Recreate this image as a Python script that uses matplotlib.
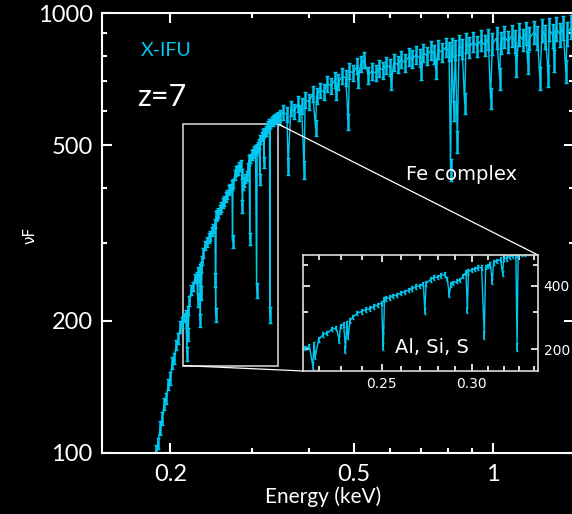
import numpy as np
import matplotlib.pyplot as plt
from matplotlib.ticker import FixedLocator, FixedFormatter, NullFormatter
from mpl_toolkits.axes_grid1.inset_locator import mark_inset

plt.rcParams['font.family'] = ['Lato', 'DejaVu Sans']

cyan = '#00c8f0'

# spectrum, low-energy rise (keV, nuF, error)
energy_lo = [0.184, 0.186, 0.188, 0.190, 0.192, 0.194, 0.196, 0.198, 0.200, 0.202,
             0.204, 0.206, 0.208, 0.210, 0.212]
flux_lo = [94, 101, 105, 114, 120, 129, 133, 143, 148, 160,
           164, 176, 182, 193, 198]
err_lo = [3, 3, 3, 4, 4, 4, 4, 4, 5, 5,
          5, 5, 5, 6, 6]

# Al, Si, S region (the zoomed part)
energy_mid = [0.214, 0.216, 0.2174, 0.218, 0.2186, 0.220, 0.222, 0.224, 0.226, 0.228,
              0.2294, 0.230, 0.2315, 0.2323, 0.2330, 0.2336, 0.2345, 0.236, 0.238, 0.240,
              0.242, 0.244, 0.246, 0.248, 0.250, 0.2504, 0.2508, 0.2514, 0.252, 0.254,
              0.256, 0.258, 0.260, 0.262, 0.264, 0.266, 0.268, 0.270, 0.272, 0.2728,
              0.2735, 0.276, 0.278, 0.280, 0.282, 0.284, 0.2855, 0.2866, 0.2875, 0.289,
              0.291, 0.293, 0.295, 0.2965, 0.2973, 0.298, 0.300, 0.302, 0.304, 0.306,
              0.3077, 0.3085, 0.310, 0.3115, 0.3127, 0.3135, 0.316, 0.318, 0.3193, 0.320,
              0.322, 0.324, 0.326, 0.328, 0.3288, 0.3295, 0.332, 0.334, 0.336, 0.338,
              0.340, 0.342]
flux_mid = [203, 206, 168, 211, 186, 222, 235, 239, 249, 252,
            223, 259, 262, 200, 265, 231, 274, 285, 297, 302,
            308, 311, 319, 324, 332, 247, 206, 345, 347, 351,
            358, 362, 370, 374, 382, 387, 396, 399, 407, 303,
            410, 429, 437, 440, 448, 452, 430, 364, 405, 412,
            420, 426, 445, 463, 307, 467, 475, 480, 487, 488,
            234, 492, 497, 505, 418, 516, 524, 531, 457, 536,
            540, 549, 555, 560, 206, 561, 567, 568, 573, 574,
            579, 582]
err_mid = [5, 5, 6, 5, 6, 6, 6, 6, 6, 6,
           8, 6, 7, 7, 7, 8, 7, 7, 7, 8,
           8, 8, 8, 8, 8, 9, 8, 9, 9, 9,
           9, 9, 9, 9, 10, 10, 10, 10, 10, 10,
           10, 11, 11, 11, 11, 11, 11, 12, 10, 10,
           10, 11, 11, 12, 10, 12, 12, 12, 12, 12,
           9, 12, 12, 13, 12, 13, 13, 13, 13, 13,
           14, 14, 14, 14, 9, 14, 14, 14, 14, 14,
           14, 15]

# higher energies, incl. Fe complex near 0.8 keV
energy_hi = [0.345, 0.351, 0.358, 0.360, 0.365, 0.371, 0.378, 0.381, 0.385, 0.390,
             0.392, 0.400, 0.407, 0.413, 0.415, 0.422, 0.430, 0.438, 0.446, 0.455,
             0.457, 0.463, 0.472, 0.480, 0.486, 0.489, 0.498, 0.508, 0.510, 0.517,
             0.527, 0.537, 0.547, 0.557, 0.567, 0.578, 0.588, 0.599, 0.603, 0.610,
             0.622, 0.633, 0.645, 0.657, 0.669, 0.682, 0.694, 0.700, 0.707, 0.720,
             0.734, 0.747, 0.752, 0.761, 0.775, 0.790, 0.804, 0.810, 0.815, 0.823,
             0.830, 0.838, 0.845, 0.858, 0.869, 0.875, 0.890, 0.907, 0.925, 0.942,
             0.960, 0.978, 0.989, 0.998, 1.02, 1.035, 1.04, 1.06, 1.08, 1.10,
             1.12, 1.125, 1.14, 1.16, 1.18, 1.19, 1.20, 1.23, 1.25, 1.265,
             1.28, 1.30, 1.32, 1.325, 1.35, 1.36, 1.37, 1.40, 1.42, 1.44,
             1.45, 1.48, 1.50, 1.53]
flux_hi = [580, 595, 588, 448, 606, 598, 621, 592, 615, 440,
           634, 628, 655, 548, 648, 668, 662, 690, 684, 705,
           662, 698, 719, 712, 566, 738, 731, 758, 704, 766,
           781, 722, 738, 731, 750, 742, 762, 752, 700, 772,
           764, 784, 772, 795, 786, 803, 791, 740, 812, 800,
           822, 806, 745, 828, 814, 835, 818, 440, 836, 600,
           826, 510, 846, 830, 623, 855, 836, 860, 840, 866,
           846, 872, 640, 851, 878, 710, 856, 884, 860, 889,
           864, 760, 895, 870, 900, 770, 876, 906, 880, 710,
           912, 884, 720, 918, 890, 780, 922, 894, 926, 736,
           898, 930, 902, 935]
err_hi = [23, 24, 24, 20, 24, 24, 25, 25, 25, 20,
          26, 26, 27, 24, 27, 27, 27, 28, 28, 29,
          28, 29, 30, 30, 25, 31, 31, 32, 30, 32,
          33, 31, 32, 32, 33, 33, 34, 34, 31, 35,
          35, 36, 36, 37, 37, 38, 38, 35, 39, 39,
          40, 40, 36, 41, 41, 42, 42, 25, 43, 32,
          43, 30, 44, 44, 35, 45, 45, 46, 46, 47,
          47, 48, 36, 48, 49, 40, 49, 50, 50, 51,
          51, 44, 52, 52, 53, 45, 53, 54, 54, 42,
          55, 55, 42, 56, 56, 46, 57, 57, 58, 44,
          58, 59, 59, 60]

energy = np.array(energy_lo + energy_mid + energy_hi)
flux = np.array(flux_lo + flux_mid + flux_hi)
err = np.array(err_lo + err_mid + err_hi)

fig = plt.figure(figsize=(5.72, 5.14), dpi=100, facecolor='black')
ax = fig.add_axes([0.1788, 0.1187, 0.8247, 0.856], facecolor='black')
ax.set_xscale('log')
ax.set_yscale('log')
ax.errorbar(energy, flux, yerr=err, color=cyan, lw=1.0, elinewidth=1.8,
            capsize=1.2, capthick=1.0)
ax.set_xlim(0.1424, 1.50)
ax.set_ylim(100, 1000)

ax.xaxis.set_major_locator(FixedLocator([0.2, 0.5, 1]))
ax.xaxis.set_major_formatter(FixedFormatter(['0.2', '0.5', '1']))
ax.xaxis.set_minor_locator(FixedLocator([0.3, 0.4, 0.6, 0.7, 0.8, 0.9]))
ax.xaxis.set_minor_formatter(NullFormatter())
ax.yaxis.set_major_locator(FixedLocator([100, 200, 500, 1000]))
ax.yaxis.set_major_formatter(FixedFormatter(['100', '200', '500', '1000']))
ax.yaxis.set_minor_locator(FixedLocator([300, 400, 600, 700, 800, 900]))
ax.yaxis.set_minor_formatter(NullFormatter())
ax.tick_params(which='both', direction='in', top=True, right=True,
               color='white', labelcolor='white', width=1.5, labelsize=17)
ax.tick_params(which='major', length=7)
ax.tick_params(which='minor', length=3.5)
ax.tick_params(axis='x', pad=8)
ax.tick_params(axis='y', pad=7)
for s in ax.spines.values():
    s.set_color('white')
    s.set_linewidth(1.5)

fig.text(30 / 572, 1 - 235 / 514, 'νF', rotation=90, color='white',
         fontsize=11, ha='center', va='center', family='DejaVu Sans')
fig.text(323 / 572, 1 - 497 / 514, 'Energy (keV)', color='white',
         fontsize=15, ha='center', va='center')
fig.text(166 / 572, 1 - 51 / 514, 'X-IFU', color=cyan, fontsize=14,
         ha='center', va='center')
fig.text(162 / 572, 1 - 97 / 514, 'z=7', color='white', fontsize=22,
         ha='center', va='center')
fig.text(461 / 572, 1 - 175 / 514, 'Fe complex', color='white', fontsize=14,
         ha='center', va='center', family='DejaVu Sans')

# inset on the Al, Si, S lines
axins = fig.add_axes([0.5302, 0.2782, 0.4103, 0.2257], facecolor='black')
axins.set_xscale('log')
axins.set_yscale('log')
axins.errorbar(energy, flux, yerr=err, color=cyan, lw=1.0, elinewidth=1.3,
               capsize=1.0, capthick=1.0)
axins.set_xlim(0.2133, 0.343)
axins.set_ylim(158, 559)
axins.xaxis.set_major_locator(FixedLocator([0.25, 0.30]))
axins.xaxis.set_major_formatter(FixedFormatter(['0.25', '0.30']))
axins.xaxis.set_minor_locator(FixedLocator([0.22, 0.23, 0.24, 0.26, 0.27, 0.28,
                                            0.29, 0.31, 0.32, 0.33, 0.34]))
axins.xaxis.set_minor_formatter(NullFormatter())
axins.yaxis.set_major_locator(FixedLocator([200, 400]))
axins.yaxis.set_major_formatter(FixedFormatter(['200', '400']))
axins.yaxis.set_minor_locator(FixedLocator([300, 500]))
axins.yaxis.set_minor_formatter(NullFormatter())
axins.tick_params(which='both', direction='in', top=True, right=True,
                  left=True, bottom=True, labelleft=False, labelright=True,
                  color='white', labelcolor='white', width=1.2, labelsize=10,
                  pad=4)
axins.tick_params(which='major', length=5)
axins.tick_params(which='minor', length=3.5)
for lab in axins.get_xticklabels() + axins.get_yticklabels():
    lab.set_family('DejaVu Sans')
for s in axins.spines.values():
    s.set_color('#dddddd')
    s.set_linewidth(1.2)
axins.text(0.55, 0.2, 'Al, Si, S', transform=axins.transAxes, color='white',
           fontsize=14, ha='center', va='center', family='DejaVu Sans')

box, c1, c2 = mark_inset(ax, axins, loc1=1, loc2=3, fc='none', ec='#cccccc', lw=1.2)
c1.set_color('white')
c1.set_linewidth(0.9)
c2.set_color('white')
c2.set_linewidth(0.9)

fig.savefig('out.png', dpi=100, facecolor='black')
